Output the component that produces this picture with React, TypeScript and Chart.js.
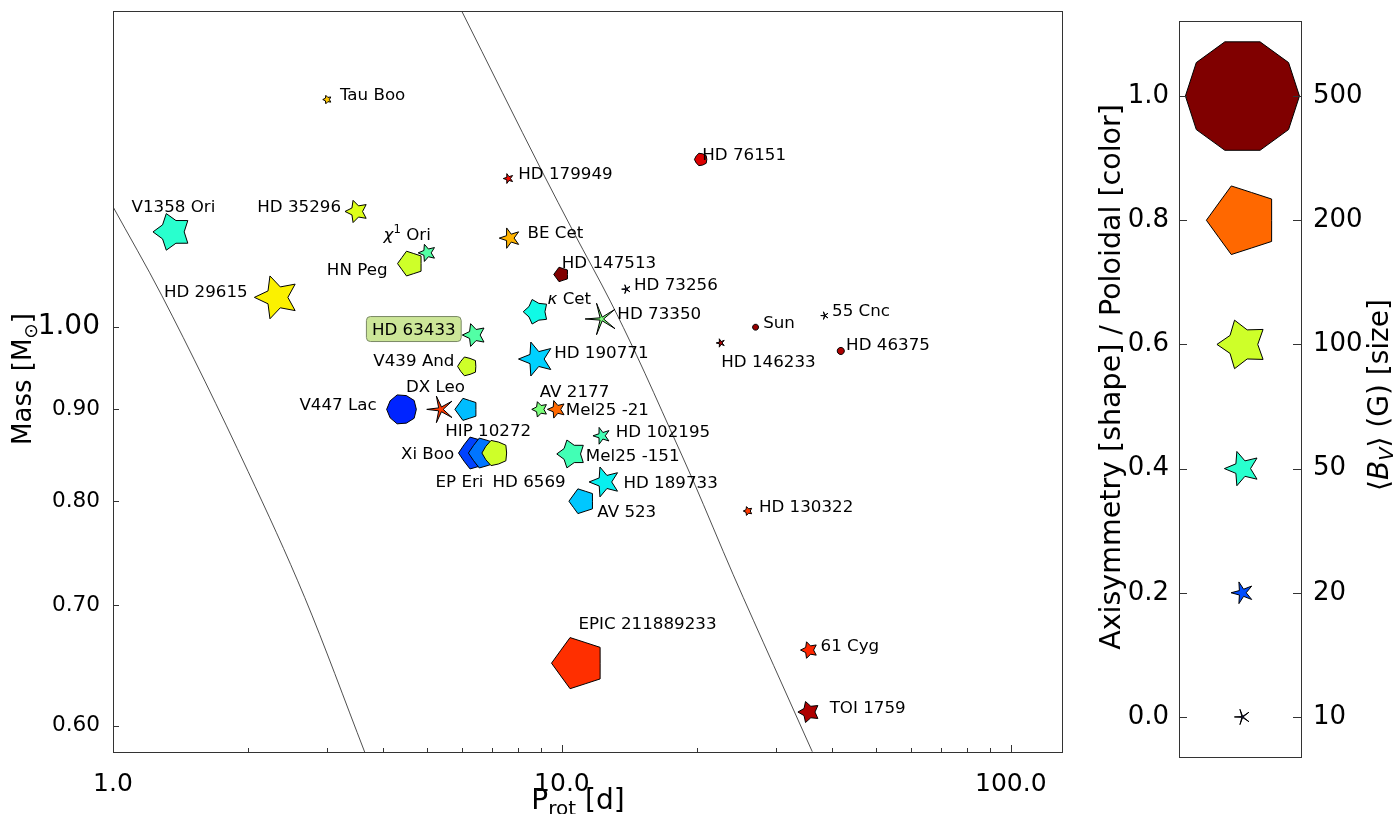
import { useEffect, useRef } from 'react';
import { Chart, registerables } from 'chart.js';

Chart.register(...registerables);

const FONT = '"DejaVu Sans", "Liberation Sans", sans-serif';

// ---------------- data ----------------
const starNames = [
  'Tau Boo', 'HD 76151', 'HD 179949', 'HD 35296', 'V1358 Ori', 'BE Cet', 'HN Peg', 'χ¹ Ori',
  'HD 147513', 'HD 73256', 'HD 29615', 'κ Cet', 'HD 73350', 'Sun', '55 Cnc', 'HD 63433',
  'HD 190771', 'HD 146233', 'HD 46375', 'V439 And', 'V447 Lac', 'DX Leo', 'HIP 10272', 'AV 2177',
  'Mel25 -21', 'HD 102195', 'Xi Boo', 'EP Eri', 'HD 6569', 'Mel25 -151', 'HD 189733', 'AV 523',
  'HD 130322', 'EPIC 211889233', '61 Cyg', 'TOI 1759',
];
const rotationPeriods = [
  3.0, 20.4, 7.6, 3.49, 1.355, 7.66, 4.6, 5.01,
  9.97, 13.91, 2.318, 8.76, 12.26, 27.0, 38.5, 6.38,
  8.77, 22.57, 41.8, 6.16, 4.4, 5.37, 6.13, 8.93,
  9.73, 12.27, 6.41, 6.71, 7.1, 10.5, 12.46, 11.08,
  25.96, 10.88, 35.55, 35.5,
];
const stellarMasses = [
  1.339, 1.24, 1.21, 1.16, 1.13, 1.121, 1.085, 1.1,
  1.07, 1.05, 1.039, 1.02, 1.0106, 1.0, 1.015, 0.99,
  0.96, 0.98, 0.97, 0.951, 0.9, 0.9, 0.9, 0.9,
  0.9, 0.87, 0.851, 0.851, 0.851, 0.85, 0.82, 0.8,
  0.79, 0.65, 0.661, 0.6105,
];
const axisymmetry = [
  0.47, 0.9, 0.3, 0.47, 0.62, 0.3, 0.8, 0.4,
  0.8, 0.05, 0.45, 0.68, 0.03, 1.0, 0.0, 0.45,
  0.38, 0.2, 1.0, 0.84, 0.95, 0.08, 0.8, 0.47,
  0.4, 0.3, 0.82, 0.82, 0.86, 0.62, 0.38, 0.8,
  0.47, 0.8, 0.47, 0.53,
];
const poloidalFraction = [
  0.7, 0.92, 0.9, 0.62, 0.4, 0.72, 0.6, 0.45,
  1.0, 0.0, 0.655, 0.37, 0.5, 0.98, 0.0, 0.45,
  0.33, 0.96, 0.96, 0.6, 0.16, 0.85, 0.31, 0.5,
  0.8, 0.43, 0.19, 0.24, 0.6, 0.43, 0.36, 0.32,
  0.85, 0.86, 0.87, 0.96,
];
const meanField = [
  3.0, 6.5, 4.1, 21, 57, 17.6, 26, 12.5,
  8.8, 3.3, 78, 25.6, 42, 1.4, 2.5, 22,
  49, 3.0, 2.0, 15, 35.5, 30, 20.7, 10,
  13, 12, 43, 38, 27, 33, 38, 26,
  3.3, 111, 11.6, 18.7,
];

// Rossby-number lines
const roOnePeriods = [5.98, 9.065, 10.61, 12.84, 14.64, 17.49, 19.63, 24.06, 29.62, 36.12];
const roOneMasses = [1.5, 1.219, 1.13, 1.033, 0.9656, 0.8754, 0.8207, 0.7283, 0.6481, 0.5802];
const roTenthPeriods = [1.0, 1.283, 2.0, 2.674, 3.636];
const roTenthMasses = [1.167, 1.042, 0.831, 0.707, 0.58];

// axes ticks
const xTickValues = [1, 2, 3, 4, 5, 6, 7, 8, 9, 10, 20, 30, 40, 50, 60, 70, 80, 90, 100];
const xMajorValues = [1, 10, 100];
const xMajorLabels = ['1.0', '10.0', '100.0'];
const yTickValues = [0.6, 0.7, 0.8, 0.9, 1.0];
const yTickLabels = ['0.60', '0.70', '0.80', '0.90', '1.00'];

// colour-bar / size legend
const legendValues = [0.0, 0.2, 0.4, 0.6, 0.8, 1.0];
const legendFields = [10, 20, 50, 100, 200, 500];
const legendFieldLabels = ['10', '20', '50', '100', '200', '500'];
const legendColumn = 0.52;

// label placement (pixels relative to marker): dx, dy, align
const labelPlacement: [number, number, string][] = [
  [12.7, -6, 'left'], [1.3, -5.3, 'left'], [9.8, -5.6, 'left'], [-15.6, -5.8, 'right'],
  [1.2, -26.3, 'center'], [17.6, -6, 'left'], [-23, 5.3, 'right'], [-20, -19.4, 'center'],
  [0.4, -12.6, 'left'], [7.7, -5.7, 'left'], [-29.2, -6.3, 'right'], [11.4, -13.4, 'left'],
  [15.7, -5.7, 'left'], [7.6, -5.3, 'left'], [7.3, -5.3, 'left'], [-60.5, -6, 'center'],
  [17.8, -6.7, 'left'], [0.6, 18, 'left'], [5.3, -6.7, 'left'], [-13, -6, 'right'],
  [-25.2, -5.9, 'right'], [-5.2, -23, 'center'], [-21.3, 21, 'left'], [-0.1, -18.6, 'left'],
  [9.2, -0.7, 'left'], [13.9, -5.2, 'left'], [-21, -0.6, 'right'], [-0.7, 27.4, 'right'],
  [-2.7, 27.4, 'left'], [14.4, 1.2, 'left'], [18.6, 0, 'left'], [15.4, 9.2, 'left'],
  [11, -5.3, 'left'], [0.1, -40.7, 'left'], [11.3, -5.1, 'left'], [20.7, -5.6, 'left'],
];
const boxedLabel = 'HD 63433';

// ---------------- helpers ----------------
function interp(pts: number[][], x: number): number {
  if (x <= pts[0][0]) return pts[0][1];
  for (let i = 1; i < pts.length; i++) {
    if (x <= pts[i][0]) {
      const [x0, y0] = pts[i - 1];
      const [x1, y1] = pts[i];
      return y0 + ((y1 - y0) * (x - x0)) / (x1 - x0);
    }
  }
  return pts[pts.length - 1][1];
}

function jet(v: number): string {
  const c = Math.min(1, Math.max(0, v));
  const r = interp([[0, 0], [0.35, 0], [0.66, 1], [0.89, 1], [1, 0.5]], c);
  const g = interp([[0, 0], [0.125, 0], [0.375, 1], [0.64, 1], [0.91, 0], [1, 0]], c);
  const b = interp([[0, 0.5], [0.11, 1], [0.34, 1], [0.65, 0], [1, 0]], c);
  return `rgb(${Math.round(r * 255)},${Math.round(g * 255)},${Math.round(b * 255)})`;
}

function innerRatio(a: number): number {
  return interp([[0, 0.08], [0.2, 0.33], [0.4, 0.45], [0.6, 0.6], [0.8, 0.81], [1, 1]], a);
}

function markerRadius(b: number): number {
  return 2.55 * Math.sqrt(b);
}

function drawMarker(ctx: CanvasRenderingContext2D, x: number, y: number, R: number, ratio: number, color: string) {
  ctx.save();
  ctx.beginPath();
  for (let k = 0; k < 10; k++) {
    const ang = Math.PI + (k * Math.PI) / 5;
    const rr = k % 2 === 0 ? R : R * ratio;
    const px = x + rr * Math.cos(ang);
    const py = y + rr * Math.sin(ang);
    if (k === 0) ctx.moveTo(px, py);
    else ctx.lineTo(px, py);
  }
  ctx.closePath();
  ctx.fillStyle = color;
  ctx.fill();
  ctx.lineWidth = 1;
  ctx.lineJoin = 'miter';
  ctx.strokeStyle = '#000';
  ctx.stroke();
  ctx.restore();
}

type Part = { t: string; size: number; italic?: boolean; dy?: number };

function labelParts(label: string, size: number): Part[] {
  const parts: Part[] = [];
  for (const ch of label) {
    let p: Part;
    if (ch === '¹') p = { t: '1', size: size * 0.7, dy: -size * 0.4 };
    else if (ch === 'χ' || ch === 'κ') p = { t: ch, size, italic: true };
    else p = { t: ch, size };
    const last = parts[parts.length - 1];
    if (last && last.size === p.size && !!last.italic === !!p.italic && (last.dy || 0) === (p.dy || 0)) last.t += p.t;
    else parts.push(p);
  }
  return parts;
}

function fontOf(p: Part) {
  return `${p.italic ? 'oblique ' : ''}${p.size}px ${FONT}`;
}

function drawRich(
  ctx: CanvasRenderingContext2D, parts: Part[], x: number, y: number, align: string, rotate = 0,
) {
  ctx.save();
  ctx.translate(x, y);
  if (rotate) ctx.rotate(rotate);
  const widths = parts.map((p) => {
    ctx.font = fontOf(p);
    return ctx.measureText(p.t).width;
  });
  const total = widths.reduce((a, b) => a + b, 0);
  let cx = align === 'left' ? 0 : align === 'right' ? -total : -total / 2;
  const base = Math.max(...parts.map((p) => p.size)) * 0.365;
  ctx.fillStyle = '#000';
  ctx.textAlign = 'left';
  ctx.textBaseline = 'alphabetic';
  parts.forEach((p, i) => {
    ctx.font = fontOf(p);
    ctx.fillText(p.t, cx, base + (p.dy || 0));
    cx += widths[i];
  });
  ctx.restore();
}

function roundRect(ctx: CanvasRenderingContext2D, x: number, y: number, w: number, h: number, r: number) {
  ctx.beginPath();
  ctx.moveTo(x + r, y);
  ctx.lineTo(x + w - r, y);
  ctx.quadraticCurveTo(x + w, y, x + w, y + r);
  ctx.lineTo(x + w, y + h - r);
  ctx.quadraticCurveTo(x + w, y + h, x + w - r, y + h);
  ctx.lineTo(x + r, y + h);
  ctx.quadraticCurveTo(x, y + h, x, y + h - r);
  ctx.lineTo(x, y + r);
  ctx.quadraticCurveTo(x, y, x + r, y);
  ctx.closePath();
}

const SPINE = '#333';
const LABEL_SIZE = 16.7;

// ---------------- plugins ----------------
const mainPlugin = {
  id: 'mainDecor',
  afterDatasetsDraw(chart: any) {
    const ctx: CanvasRenderingContext2D = chart.ctx;
    const meta = chart.getDatasetMeta(2);
    meta.data.forEach((el: any, i: number) => {
      const d = meta._dataset.data[i];
      drawMarker(ctx, el.x, el.y, markerRadius(d.b), innerRatio(d.a), jet(d.p));
    });
    meta.data.forEach((el: any, i: number) => {
      const [dx, dy, align] = labelPlacement[i];
      const name = starNames[i];
      const parts = labelParts(name, LABEL_SIZE);
      if (name === boxedLabel) {
        ctx.save();
        ctx.font = `${LABEL_SIZE}px ${FONT}`;
        const w = ctx.measureText(name).width;
        const cx = el.x + dx;
        const cy = el.y + dy;
        roundRect(ctx, cx - w / 2 - 5.5, cy - 12.5, w + 11, 25, 4);
        ctx.fillStyle = 'rgba(154,205,50,0.5)';
        ctx.fill();
        ctx.lineWidth = 1;
        ctx.strokeStyle = '#7a8a66';
        ctx.stroke();
        ctx.restore();
      }
      drawRich(ctx, parts, el.x + dx, el.y + dy, align);
    });
  },
  afterDraw(chart: any) {
    const ctx: CanvasRenderingContext2D = chart.ctx;
    const a = chart.chartArea;
    const xs = chart.scales.x;
    const ys = chart.scales.y;
    ctx.save();
    ctx.strokeStyle = SPINE;
    ctx.lineWidth = 1;
    ctx.beginPath();
    xTickValues.forEach((v) => {
      const px = Math.round(xs.getPixelForValue(v)) + 0.5;
      const len = xMajorValues.includes(v) ? 7 : 4;
      ctx.moveTo(px, a.bottom);
      ctx.lineTo(px, a.bottom - len);
    });
    yTickValues.forEach((v) => {
      const py = Math.round(ys.getPixelForValue(v)) + 0.5;
      ctx.moveTo(a.left, py);
      ctx.lineTo(a.left + 6, py);
    });
    ctx.stroke();
    ctx.strokeRect(Math.round(a.left) + 0.5, Math.round(a.top) + 0.5, Math.round(a.right - a.left), Math.round(a.bottom - a.top));
    ctx.restore();
    // axis titles
    drawRich(
      ctx,
      [{ t: 'P', size: 28 }, { t: 'rot', size: 20, dy: 6 }, { t: ' [d]', size: 28 }],
      578, 799, 'center',
    );
    drawRich(
      ctx,
      [{ t: 'Mass [M', size: 26 }, { t: '⊙', size: 18.5, dy: 6 }, { t: ']', size: 26 }],
      22, 379, 'center', -Math.PI / 2,
    );
  },
};

const barPlugin = {
  id: 'barDecor',
  afterDatasetsDraw(chart: any) {
    const ctx: CanvasRenderingContext2D = chart.ctx;
    const meta = chart.getDatasetMeta(0);
    meta.data.forEach((el: any, i: number) => {
      drawMarker(ctx, el.x, el.y, markerRadius(legendFields[i]), innerRatio(legendValues[i]), jet(legendValues[i]));
    });
  },
  afterDraw(chart: any) {
    const ctx: CanvasRenderingContext2D = chart.ctx;
    const a = chart.chartArea;
    const ys = chart.scales.y;
    ctx.save();
    ctx.strokeStyle = SPINE;
    ctx.lineWidth = 1;
    ctx.beginPath();
    legendValues.forEach((v) => {
      const py = Math.round(ys.getPixelForValue(v)) + 0.5;
      ctx.moveTo(a.left, py);
      ctx.lineTo(a.left + 8, py);
      ctx.moveTo(a.right, py);
      ctx.lineTo(a.right - 8, py);
    });
    ctx.stroke();
    ctx.strokeRect(Math.round(a.left) + 0.5, Math.round(a.top) + 0.5, Math.round(a.right - a.left), Math.round(a.bottom - a.top));
    ctx.restore();
    const midY = (a.top + a.bottom) / 2;
    drawRich(ctx, [{ t: 'Axisymmetry [shape] / Poloidal [color]', size: 28.5 }], 30, midY - 12, 'center', -Math.PI / 2);
    drawRich(
      ctx,
      [
        { t: '⟨', size: 28 },
        { t: 'B', size: 28, italic: true },
        { t: 'V', size: 19.5, italic: true, dy: 5 },
        { t: '⟩ (G) [size]', size: 28 },
      ],
      298, midY + 6, 'center', -Math.PI / 2,
    );
  },
};

// ---------------- component ----------------
export default function App() {
  const mainRef = useRef<HTMLCanvasElement>(null);
  const barRef = useRef<HTMLCanvasElement>(null);

  useEffect(() => {
    Chart.defaults.font.family = FONT;
    const starPoints = starNames.map((_, i) => ({
      x: rotationPeriods[i],
      y: stellarMasses[i],
      a: axisymmetry[i],
      p: poloidalFraction[i],
      b: meanField[i],
    }));
    const lineStyle = {
      type: 'line' as const,
      borderColor: '#222',
      borderWidth: 0.8,
      pointRadius: 0,
      fill: false,
      cubicInterpolationMode: 'monotone' as const,
    };
    const main = new Chart(mainRef.current as HTMLCanvasElement, {
      type: 'scatter',
      data: {
        datasets: [
          { ...lineStyle, data: roOnePeriods.map((p, i) => ({ x: p, y: roOneMasses[i] })) },
          { ...lineStyle, data: roTenthPeriods.map((p, i) => ({ x: p, y: roTenthMasses[i] })) },
          { type: 'scatter', data: starPoints as any, pointRadius: 0, pointHoverRadius: 0 },
        ] as any,
      },
      options: {
        responsive: false,
        animation: false,
        events: [],
        layout: { padding: { left: 0, right: 38, top: 11, bottom: 0 } },
        plugins: { legend: { display: false }, tooltip: { enabled: false } },
        scales: {
          x: {
            type: 'logarithmic',
            min: 1,
            max: 130,
            grid: { display: false },
            border: { display: false },
            afterBuildTicks: (s: any) => {
              s.ticks = xTickValues.map((v) => ({ value: v }));
            },
            afterFit: (s: any) => {
              s.height = 62;
              s.paddingLeft = 0;
              s.paddingRight = 0;
            },
            ticks: {
              autoSkip: false,
              maxRotation: 0,
              minRotation: 0,
              padding: 9,
              color: '#000',
              font: { size: 25, family: FONT },
              callback: (v: any) => {
                const i = xMajorValues.indexOf(Number(v));
                return i >= 0 ? xMajorLabels[i] : '';
              },
            },
          },
          y: {
            type: 'logarithmic',
            min: 0.58,
            max: 1.5,
            grid: { display: false },
            border: { display: false },
            afterBuildTicks: (s: any) => {
              s.ticks = yTickValues.map((v) => ({ value: v }));
            },
            afterFit: (s: any) => {
              s.width = 113;
              s.paddingTop = 0;
              s.paddingBottom = 0;
            },
            ticks: {
              autoSkip: false,
              padding: 5,
              color: '#000',
              font: (c: any) => ({ size: c.tick && c.tick.value === 1 ? 28 : 21.6, family: FONT }),
              callback: (v: any) => {
                const i = yTickValues.indexOf(Number(v));
                return i >= 0 ? yTickLabels[i] : '';
              },
            },
          },
        },
      } as any,
      plugins: [mainPlugin],
    });

    const bar = new Chart(barRef.current as HTMLCanvasElement, {
      type: 'scatter',
      data: {
        datasets: [
          { data: legendValues.map((v) => ({ x: legendColumn, y: v })), pointRadius: 0, pointHoverRadius: 0 },
        ],
      },
      options: {
        responsive: false,
        animation: false,
        events: [],
        layout: { padding: { left: 0, right: 0, top: 21, bottom: 57 } },
        plugins: { legend: { display: false }, tooltip: { enabled: false } },
        scales: {
          x: { type: 'linear', min: 0, max: 1, display: false },
          y: {
            type: 'linear',
            position: 'left',
            min: -0.0645,
            max: 1.1209,
            grid: { display: false },
            border: { display: false },
            afterBuildTicks: (s: any) => {
              s.ticks = legendValues.map((v) => ({ value: v }));
            },
            afterFit: (s: any) => {
              s.width = 99;
              s.paddingTop = 0;
              s.paddingBottom = 0;
            },
            ticks: {
              padding: 2,
              color: '#000',
              font: { size: 26, family: FONT },
              callback: (v: any) => Number(v).toFixed(1),
            },
          },
          y2: {
            type: 'linear',
            position: 'right',
            min: -0.0645,
            max: 1.1209,
            grid: { display: false },
            border: { display: false },
            afterBuildTicks: (s: any) => {
              s.ticks = legendValues.map((v) => ({ value: v }));
            },
            afterFit: (s: any) => {
              s.width = 96;
              s.paddingTop = 0;
              s.paddingBottom = 0;
            },
            ticks: {
              padding: 4,
              color: '#000',
              font: { size: 26, family: FONT },
              callback: (v: any) => legendFieldLabels[Math.round(Number(v) * 5)] ?? '',
            },
          },
        },
      } as any,
      plugins: [barPlugin],
    });

    return () => {
      main.destroy();
      bar.destroy();
    };
  }, []);

  return (
    <div style={{ position: 'absolute', left: 0, top: 0, width: 1397, height: 814, background: '#fff', overflow: 'hidden' }}>
      <canvas ref={mainRef} width={1100} height={814} style={{ position: 'absolute', left: 0, top: 0, width: 1100, height: 814 }} />
      <canvas ref={barRef} width={317} height={814} style={{ position: 'absolute', left: 1080, top: 0, width: 317, height: 814 }} />
    </div>
  );
}
